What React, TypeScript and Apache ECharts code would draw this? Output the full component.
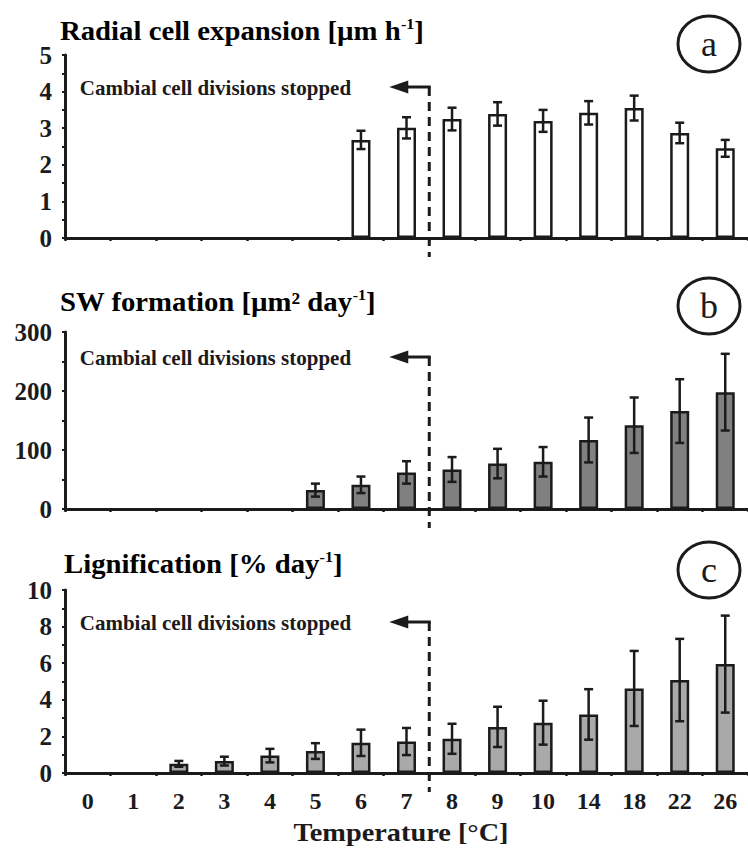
import React, { useEffect, useRef } from "react";
import * as echarts from "echarts";

const categories = ["0", "1", "2", "3", "4", "5", "6", "7", "8", "9", "10", "14", "18", "22", "26"];

const radialValues = [null, null, null, null, null, null, 2.68, 3.01, 3.25, 3.39, 3.2, 3.42, 3.55, 2.87, 2.45];
const radialErrors = [null, null, null, null, null, null, 0.25, 0.29, 0.31, 0.32, 0.3, 0.32, 0.34, 0.28, 0.23];

const swValues = [null, null, null, null, null, 32, 41, 62, 67, 77, 80, 117, 142, 166, 198];
const swErrors = [null, null, null, null, null, 11, 14, 19, 21, 25, 25, 38, 47, 54, 65];

const ligValues = [null, null, 0.5, 0.65, 0.95, 1.2, 1.65, 1.72, 1.87, 2.52, 2.75, 3.2, 4.62, 5.08, 5.95];
const ligErrors = [null, null, 0.16, 0.24, 0.37, 0.43, 0.72, 0.74, 0.82, 1.1, 1.2, 1.38, 2.05, 2.25, 2.65];

const radialTicks = [0, 1, 2, 3, 4, 5];
const swTicks = [0, 100, 200, 300];
const ligTicks = [0, 2, 4, 6, 8, 10];

const annotationText = "Cambial cell divisions stopped";
const dividerAfterCategory = "7";

const FONT = "Liberation Serif";
const INK = "#1c1a1b";

function App() {
  const ref = useRef<HTMLDivElement>(null);

  useEffect(() => {
    if (!ref.current) return;
    const chart = echarts.init(ref.current, null, { renderer: "svg" });

    const grids = [
      { left: 65, top: 55, width: 688, height: 183 },
      { left: 65, top: 332, width: 688, height: 177 },
      { left: 65, top: 590, width: 688, height: 183 },
    ];
    const tickSets = [radialTicks, swTicks, ligTicks];
    const valueSets = [radialValues, swValues, ligValues];
    const errorSets = [radialErrors, swErrors, ligErrors];
    const fills = ["#ffffff", "#808080", "#a9a9a9"];
    const arrowOffsets = [32, 25, 32];

    const xAxes = grids.map((_, i) => ({
      type: "category",
      gridIndex: i,
      data: categories,
      boundaryGap: true,
      axisLine: { lineStyle: { color: INK, width: 3 } },
      axisTick: { show: true, length: 3, lineStyle: { color: INK, width: 2.5 } },
      axisLabel: {
        show: i === 2,
        fontFamily: FONT,
        fontWeight: "bold",
        fontSize: 24,
        color: INK,
        margin: 16,
        interval: 0,
      },
      splitLine: { show: false },
    }));

    const yAxes = tickSets.map((ticks, i) => ({
      type: "value",
      gridIndex: i,
      min: ticks[0],
      max: ticks[ticks.length - 1],
      interval: ticks[1] - ticks[0],
      axisLine: { show: true, lineStyle: { color: INK, width: 3 } },
      axisTick: { show: true, length: 3, lineStyle: { color: INK, width: 2 } },
      minorTick: { show: true, splitNumber: 2, length: 3, lineStyle: { color: INK, width: 2 } },
      splitLine: { show: false },
      axisLabel: {
        fontFamily: FONT,
        fontWeight: "bold",
        fontSize: 25,
        color: INK,
        margin: 13,
        padding: [11, 0, 0, 0],
      },
    }));

    const series: any[] = [];
    valueSets.forEach((vals, i) => {
      series.push({
        type: "bar",
        xAxisIndex: i,
        yAxisIndex: i,
        data: vals.map((v) => (v === null ? "-" : v)),
        barWidth: 19,
        itemStyle: { color: fills[i], borderColor: INK, borderWidth: 2.5 },
        silent: true,
      });
      const errData: number[][] = [];
      vals.forEach((v, k) => {
        const e = errorSets[i][k];
        if (v !== null && e !== null) errData.push([k, v as number, e as number]);
      });
      series.push({
        type: "custom",
        xAxisIndex: i,
        yAxisIndex: i,
        data: errData,
        z: 5,
        silent: true,
        renderItem: (params: any, api: any) => {
          const k = api.value(0);
          const v = api.value(1);
          const e = api.value(2);
          const top = api.coord([k, v + e]);
          const bot = api.coord([k, v - e]);
          const x = top[0];
          const cap = 4.5;
          const st = { stroke: INK, lineWidth: 2.5 };
          return {
            type: "group",
            children: [
              { type: "line", shape: { x1: x, y1: top[1], x2: x, y2: bot[1] }, style: st },
              { type: "line", shape: { x1: x - cap, y1: top[1], x2: x + cap, y2: top[1] }, style: st },
              { type: "line", shape: { x1: x - cap, y1: bot[1], x2: x + cap, y2: bot[1] }, style: st },
            ],
          };
        },
      });
      const divIdx = categories.indexOf(dividerAfterCategory);
      series.push({
        type: "custom",
        xAxisIndex: i,
        yAxisIndex: i,
        data: [[divIdx, 0]],
        z: 6,
        silent: true,
        clip: false,
        renderItem: (params: any, api: any) => {
          const cs = params.coordSys;
          const xd = (api.coord([divIdx, 0])[0] + api.coord([divIdx + 1, 0])[0]) / 2;
          const x0 = api.coord([0, 0])[0];
          const ya = cs.y + arrowOffsets[i];
          const yb = cs.y + cs.height + 19;
          const tip = xd - 40;
          const back = tip + 19;
          return {
            type: "group",
            children: [
              {
                type: "line",
                shape: { x1: xd, y1: ya, x2: xd, y2: yb },
                style: { stroke: INK, lineWidth: 3, lineDash: [9, 6] },
              },
              {
                type: "line",
                shape: { x1: back - 1, y1: ya, x2: xd + 1.5, y2: ya },
                style: { stroke: INK, lineWidth: 3 },
              },
              {
                type: "polygon",
                shape: { points: [[tip, ya], [back, ya - 6.5], [back, ya + 6.5]] },
                style: { fill: INK },
              },
              {
                type: "text",
                style: {
                  text: annotationText,
                  x: x0 - 8,
                  y: ya + 1,
                  fontFamily: FONT,
                  fontWeight: "bold",
                  fontSize: 21,
                  fill: INK,
                  verticalAlign: "middle",
                  align: "left",
                },
              },
            ],
          };
        },
      });
    });

    const nStyle = { fontFamily: FONT, fontWeight: "bold", fontSize: 27, color: INK, lineHeight: 30 };
    const sStyle = { fontFamily: FONT, fontWeight: "bold", fontSize: 15, color: INK, verticalAlign: "top" };

    const title = (x: number, y: number, text: string) => ({
      type: "text",
      x,
      y,
      scaleX: 1.065,
      style: {
        text,
        rich: { n: nStyle, s: sStyle },
        verticalAlign: "middle",
        align: "left",
      },
    });

    const badge = (cx: number, cy: number, letter: string) => ({
      type: "group",
      children: [
        {
          type: "ellipse",
          shape: { cx, cy, rx: 31, ry: 28 },
          style: { fill: "none", stroke: INK, lineWidth: 3 },
        },
        {
          type: "text",
          x: cx,
          y: cy,
          style: {
            text: letter,
            fontFamily: FONT,
            fontSize: 36,
            fill: INK,
            align: "center",
            verticalAlign: "middle",
          },
        },
      ],
    });

    chart.setOption({
      animation: false,
      backgroundColor: "#ffffff",
      grid: grids,
      xAxis: xAxes,
      yAxis: yAxes,
      series,
      graphic: [
        title(60, 31, "{n|Radial cell expansion [µm h}{s|-1}{n|]}"),
        title(60, 302, "{n|SW formation [µm² day}{s|-1}{n|]}"),
        title(64, 564, "{n|Lignification [% day}{s|-1}{n|]}"),
        badge(709, 44, "a"),
        badge(709, 306, "b"),
        badge(709, 570, "c"),
        {
          type: "text",
          x: 401,
          y: 832,
          scaleX: 1.09,
          style: {
            text: "Temperature [°C]",
            fontFamily: FONT,
            fontWeight: "bold",
            fontSize: 26,
            fill: INK,
            align: "center",
            verticalAlign: "middle",
          },
        },
      ],
    });

    return () => chart.dispose();
  }, []);

  return (
    <div
      ref={ref}
      style={{ position: "absolute", left: 0, top: 0, width: 748, height: 849, background: "#fff" }}
    />
  );
}

export default App;
